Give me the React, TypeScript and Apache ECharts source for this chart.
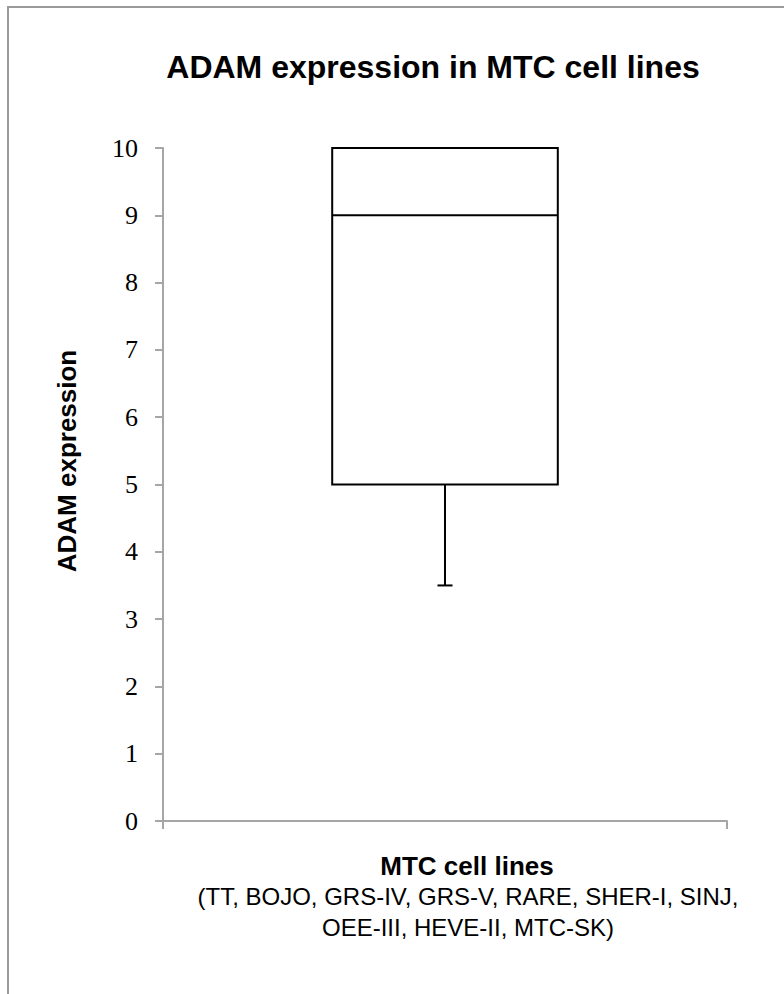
import React, { useEffect, useRef } from "react";
import * as echarts from "echarts";

const categories = ["MTC cell lines"];
const minValues = [3.5];
const q1Values = [5];
const medianValues = [9];
const q3Values = [10];
const maxValues = [10];
const yTickMin = 0;
const yTickMax = 10;
const yTickInterval = 1;

const titleText = "ADAM expression in MTC cell lines";
const yAxisTitle = "ADAM expression";
const xAxisTitle = "MTC cell lines";
const xAxisSubtitle = [
  "(TT, BOJO, GRS-IV, GRS-V, RARE, SHER-I, SINJ,",
  "OEE-III, HEVE-II, MTC-SK)",
];

export default function App() {
  const ref = useRef<HTMLDivElement>(null);
  useEffect(() => {
    if (!ref.current) return;
    const chart = echarts.init(ref.current, undefined, { renderer: "svg" });
    const axisGray = "#a6a6a6";
    const data = categories.map((c, i) => [
      i,
      minValues[i],
      q1Values[i],
      medianValues[i],
      q3Values[i],
      maxValues[i],
    ]);
    chart.setOption({
      animation: false,
      backgroundColor: "#ffffff",
      title: {
        text: titleText,
        left: 428,
        top: 46,
        textAlign: "center",
        textStyle: {
          fontFamily: "Liberation Sans, Arial, sans-serif",
          fontWeight: "bold",
          fontSize: 32,
          color: "#000",
        },
      },
      grid: { left: 163, right: 57, top: 148, bottom: 173, containLabel: false },
      xAxis: {
        type: "category",
        data: categories,
        boundaryGap: true,
        axisLine: { show: true, lineStyle: { color: axisGray, width: 2 } },
        axisTick: { show: true, length: 8, lineStyle: { color: axisGray, width: 2 } },
        axisLabel: { show: false },
        splitLine: { show: false },
      },
      yAxis: {
        type: "value",
        min: yTickMin,
        max: yTickMax,
        interval: yTickInterval,
        axisLine: { show: true, lineStyle: { color: axisGray, width: 2 } },
        axisTick: { show: true, length: 8, lineStyle: { color: axisGray, width: 2 } },
        axisLabel: {
          margin: 25,
          fontFamily: "Liberation Serif, serif",
          fontSize: 26,
          color: "#000",
        },
        splitLine: { show: false },
      },
      graphic: [
        {
          type: "rect",
          silent: true,
          shape: { x: 8, y: 7, width: 820, height: 1020 },
          style: { fill: "none", stroke: "#9a9a9a", lineWidth: 2 },
        },
        {
          type: "text",
          x: 67,
          y: 461,
          rotation: Math.PI / 2,
          style: {
            text: yAxisTitle,
            align: "center",
            verticalAlign: "middle",
            font: "bold 26px 'Liberation Sans', Arial, sans-serif",
            fill: "#000",
          },
        },
        {
          type: "text",
          x: 467,
          y: 866,
          style: {
            text: xAxisTitle,
            align: "center",
            verticalAlign: "middle",
            font: "bold 26px 'Liberation Sans', Arial, sans-serif",
            fill: "#000",
          },
        },
        {
          type: "text",
          x: 468,
          y: 896,
          style: {
            text: xAxisSubtitle[0],
            align: "center",
            verticalAlign: "middle",
            font: "24px 'Liberation Sans', Arial, sans-serif",
            fill: "#000",
          },
        },
        {
          type: "text",
          x: 468,
          y: 927,
          style: {
            text: xAxisSubtitle[1],
            align: "center",
            verticalAlign: "middle",
            font: "24px 'Liberation Sans', Arial, sans-serif",
            fill: "#000",
          },
        },
      ],
      series: [
        {
          type: "custom",
          name: "ADAM expression",
          data,
          encode: { x: 0, y: [1, 2, 3, 4, 5] },
          renderItem: (params: any, api: any) => {
            const xi = api.value(0);
            const pMin = api.coord([xi, api.value(1)]);
            const pQ1 = api.coord([xi, api.value(2)]);
            const pMed = api.coord([xi, api.value(3)]);
            const pQ3 = api.coord([xi, api.value(4)]);
            const pMax = api.coord([xi, api.value(5)]);
            const band = api.size([1, 0])[0];
            const half = band * 0.2;
            const cap = 7.5;
            const cx = pMed[0];
            const st = { stroke: "#000", lineWidth: 2, fill: "none" };
            return {
              type: "group",
              children: [
                {
                  type: "rect",
                  shape: { x: cx - half, y: pQ3[1], width: half * 2, height: pQ1[1] - pQ3[1] },
                  style: { fill: "#fff", stroke: "#000", lineWidth: 2 },
                },
                { type: "line", shape: { x1: cx, y1: pQ1[1], x2: cx, y2: pMin[1] }, style: st },
                { type: "line", shape: { x1: cx - cap, y1: pMin[1], x2: cx + cap, y2: pMin[1] }, style: st },
                { type: "line", shape: { x1: cx, y1: pQ3[1], x2: cx, y2: pMax[1] }, style: st },
                { type: "line", shape: { x1: cx - cap, y1: pMax[1], x2: cx + cap, y2: pMax[1] }, style: st },
                { type: "line", shape: { x1: cx - half, y1: pMed[1], x2: cx + half, y2: pMed[1] }, style: st },
              ],
            };
          },
        },
      ],
    });
    return () => chart.dispose();
  }, []);
  return (
    <div
      ref={ref}
      style={{ position: "fixed", left: 0, top: 0, width: 784, height: 994 }}
    />
  );
}
